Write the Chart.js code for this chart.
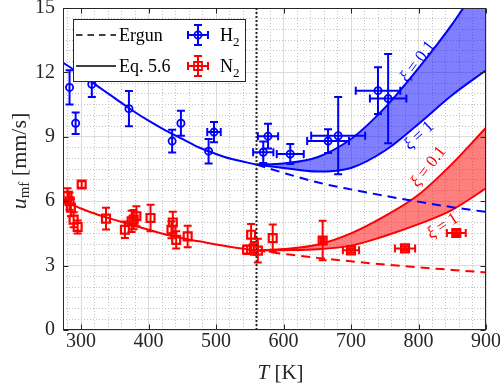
<!DOCTYPE html>
<html>
<head>
<meta charset="utf-8">
<title>u_mf vs T</title>
<script src="https://cdn.jsdelivr.net/npm/chart.js@4.4.1/dist/chart.umd.min.js"></script>
<style>
  html, body { margin: 0; padding: 0; background: #fff; }
  canvas { display: block; }
</style>
</head>
<body>
<canvas id="chart" width="500" height="389"></canvas>
<script>
// tick labels
const xTickLabels = [300, 400, 500, 600, 700, 800, 900];
const yTickLabels = [0, 3, 6, 9, 12, 15];

// H2 measurements (T [K], u_mf [mm/s], error bars)
const h2T    = [283, 292, 316, 371, 435, 448, 489, 497, 570, 577, 610, 666, 681, 740, 755];
const h2U    = [11.3, 9.63, 11.45, 10.31, 8.8, 9.63, 8.33, 9.22, 8.28, 9.03, 8.2, 8.8, 9.05, 11.15, 10.78];
const h2Terr = [0, 0, 0, 0, 0, 0, 0, 10, 15, 15, 20, 31, 40, 33, 27];
const h2Uerr = [0.8, 0.5, 0.6, 0.82, 0.53, 0.58, 0.57, 0.47, 0.5, 0.58, 0.47, 0.55, 1.8, 1.09, 2.08];

// N2 measurements
const n2T    = [280, 283, 285, 289, 295, 301, 337, 365, 375, 378, 382, 403, 434, 436, 441, 458, 546, 552, 556, 562, 584, 658, 700, 780, 856];
const n2U    = [6.25, 6.0, 5.7, 5.14, 4.8, 6.78, 5.19, 4.67, 5.06, 5.14, 5.3, 5.22, 4.67, 5.01, 4.2, 4.36, 3.74, 4.44, 3.8, 3.7, 4.28, 4.17, 3.71, 3.8, 4.52];
const n2Terr = [0, 0, 0, 0, 0, 0, 0, 0, 0, 0, 0, 0, 0, 0, 0, 0, 0, 0, 0, 0, 0, 3, 12, 15, 14];
const n2Uerr = [0.35, 0.4, 0.4, 0.35, 0.3, 0.15, 0.51, 0.39, 0.5, 0.45, 0.47, 0.62, 0.4, 0.5, 0.4, 0.5, 0.2, 0.5, 0.3, 0.55, 0.64, 0.92, 0.1, 0.1, 0.1];

// model curves below the transition (Ergun == Eq. 5.6 there)
const coldT   = [273.3, 300, 325, 350, 375, 400, 425, 450, 475, 500, 525, 560];
const h2Model = [12.46, 11.9, 11.35, 10.8, 10.25, 9.75, 9.3, 8.9, 8.5, 8.2, 7.95, 7.71];
const n2Model = [6.0, 5.66, 5.37, 5.13, 4.9, 4.67, 4.45, 4.27, 4.13, 3.98, 3.85, 3.71];

// above the transition
const hotT    = [560, 600, 650, 700, 750, 800, 850, 900];
const h2Ergun = [7.71, 7.32, 6.88, 6.55, 6.25, 5.98, 5.72, 5.5];
const h2Xi01  = [7.71, 7.76, 8.05, 8.9, 10.35, 12.2, 14.25, 16.6];
const h2Xi1   = [7.71, 7.55, 7.38, 7.55, 8.35, 9.6, 10.95, 12.1];
const n2Ergun = [3.71, 3.55, 3.36, 3.2, 3.05, 2.92, 2.8, 2.68];
const n2Xi01  = [3.71, 3.77, 3.97, 4.5, 5.3, 6.3, 7.75, 9.42];
const n2Xi1   = [3.71, 3.72, 3.76, 3.93, 4.38, 4.93, 5.6, 6.6];

const transitionT = 560;

const BLUE = '#0000ff';
const RED = '#ff0000';
const INK = '#262626';
const SERIF = "'Liberation Serif', 'Times New Roman', serif";
const CAP = 4;

const pts = (xs, ys) => xs.map((x, i) => ({ x, y: ys[i] }));

function lineDs(label, xs, ys, color, extra) {
  return {
    label,
    data: pts(xs, ys),
    showLine: true,
    borderColor: color,
    borderWidth: 2,
    pointRadius: 0,
    pointHoverRadius: 0,
    cubicInterpolationMode: 'monotone',
    fill: false,
    ...extra,
  };
}

function steps(from, to, step) {
  const out = [];
  for (let v = from; v <= to + 1e-9; v += step) out.push({ value: Math.round(v * 10) / 10 });
  return out;
}

// draws an error-bar cross with caps at (px, py)
function crossAt(ctx, px, py, x0, x1, y0, y1) {
  if (y0 !== y1) {
    ctx.moveTo(px, y0); ctx.lineTo(px, y1);
    ctx.moveTo(px - CAP, y0); ctx.lineTo(px + CAP, y0);
    ctx.moveTo(px - CAP, y1); ctx.lineTo(px + CAP, y1);
  }
  if (x0 !== x1) {
    ctx.moveTo(x0, py); ctx.lineTo(x1, py);
    ctx.moveTo(x0, py - CAP); ctx.lineTo(x0, py + CAP);
    ctx.moveTo(x1, py - CAP); ctx.lineTo(x1, py + CAP);
  }
}

const errorBars = {
  id: 'errorBars',
  afterDatasetsDraw(chart) {
    const { ctx, chartArea: a, scales: { x, y } } = chart;
    ctx.save();
    ctx.beginPath();
    ctx.rect(a.left, a.top, a.right - a.left, a.bottom - a.top);
    ctx.clip();
    chart.data.datasets.forEach((ds) => {
      if (!ds.yErr) return;
      ctx.strokeStyle = ds.borderColor;
      ctx.lineWidth = 2;
      ctx.beginPath();
      ds.data.forEach((p, i) => {
        const px = x.getPixelForValue(p.x);
        const py = y.getPixelForValue(p.y);
        const ex = ds.xErr[i], ey = ds.yErr[i];
        crossAt(ctx, px, py,
          x.getPixelForValue(p.x - ex), x.getPixelForValue(p.x + ex),
          y.getPixelForValue(p.y - ey), y.getPixelForValue(p.y + ey));
      });
      ctx.stroke();
    });
    ctx.restore();
  },
};

const xiNotes = [
  { value: '0.1', T: 799, u: 12.5, rot: -53, color: BLUE },
  { value: '1', T: 801, u: 9.05, rot: -43, color: BLUE },
  { value: '0.1', T: 815, u: 7.6, rot: -52, color: RED },
  { value: '1', T: 836, u: 4.83, rot: -33, color: RED },
];

function drawRuns(ctx, runs, cx, cy) {
  let total = 0;
  runs.forEach((r) => { ctx.font = r.font; total += ctx.measureText(r.text).width; });
  let xx = cx - total / 2;
  runs.forEach((r) => {
    ctx.font = r.font;
    ctx.fillText(r.text, xx, cy + (r.dy || 0));
    xx += ctx.measureText(r.text).width;
  });
}

const decorations = {
  id: 'decorations',
  afterDraw(chart) {
    const { ctx, chartArea: a, scales: { x, y } } = chart;
    ctx.save();

    // xi labels
    ctx.textBaseline = 'middle';
    ctx.textAlign = 'left';
    xiNotes.forEach((n) => {
      ctx.save();
      ctx.translate(x.getPixelForValue(n.T), y.getPixelForValue(n.u));
      ctx.rotate(n.rot * Math.PI / 180);
      ctx.fillStyle = n.color;
      drawRuns(ctx, [
        { text: 'ξ', font: 'italic 17px ' + SERIF },
        { text: ' = ' + n.value, font: '17px ' + SERIF },
      ], 0, 0);
      ctx.restore();
    });

    // axes box with inward ticks
    const L = Math.round(a.left) + 0.5, R = Math.round(a.right) - 0.5;
    const T = Math.round(a.top) + 0.5, B = Math.round(a.bottom) - 0.5;
    ctx.strokeStyle = INK;
    ctx.lineWidth = 1;
    ctx.setLineDash([]);
    ctx.strokeRect(L, T, R - L, B - T);
    ctx.beginPath();
    xTickLabels.forEach((v) => {
      const px = Math.round(x.getPixelForValue(v)) + 0.5;
      ctx.moveTo(px, B); ctx.lineTo(px, B - 5);
      ctx.moveTo(px, T); ctx.lineTo(px, T + 5);
    });
    yTickLabels.forEach((v) => {
      const py = Math.round(y.getPixelForValue(v)) + 0.5;
      ctx.moveTo(L, py); ctx.lineTo(L + 5, py);
      ctx.moveTo(R, py); ctx.lineTo(R - 5, py);
    });
    ctx.stroke();

    // axis titles
    ctx.fillStyle = INK;
    ctx.textBaseline = 'middle';
    drawRuns(ctx, [
      { text: 'T', font: 'italic 21px ' + SERIF },
      { text: ' [K]', font: '21px ' + SERIF },
    ], (a.left + a.right) / 2 + 6, 373);

    ctx.save();
    ctx.translate(20, 161);
    ctx.rotate(-Math.PI / 2);
    drawRuns(ctx, [
      { text: 'u', font: 'italic 22px ' + SERIF },
      { text: 'mf', font: '15px ' + SERIF, dy: 5 },
      { text: ' [mm/s]', font: '22px ' + SERIF },
    ], 0, 0);
    ctx.restore();

    // legend
    const lx = a.left + 10, ly = a.top + 11;
    ctx.fillStyle = '#fff';
    ctx.fillRect(lx, ly, 172, 62);
    ctx.strokeStyle = INK;
    ctx.lineWidth = 1;
    ctx.strokeRect(Math.round(lx) + 0.5, Math.round(ly) + 0.5, 172, 62);

    const r1 = ly + 16, r2 = ly + 47;
    ctx.strokeStyle = '#000';
    ctx.lineWidth = 1.5;
    ctx.setLineDash([6.5, 5]);
    ctx.beginPath(); ctx.moveTo(lx + 3, r1); ctx.lineTo(lx + 43, r1); ctx.stroke();
    ctx.setLineDash([]);
    ctx.beginPath(); ctx.moveTo(lx + 3, r2); ctx.lineTo(lx + 43, r2); ctx.stroke();

    ctx.fillStyle = '#000';
    ctx.textAlign = 'left';
    ctx.font = '18px ' + SERIF;
    ctx.fillText('Ergun', lx + 46, r1 + 1);
    ctx.fillText('Eq. 5.6', lx + 46, r2 + 1);

    const mx = lx + 125;
    [[r1, BLUE, 'H'], [r2, RED, 'N']].forEach(([ry, col, sym]) => {
      ctx.strokeStyle = col;
      ctx.lineWidth = 2;
      ctx.beginPath();
      crossAt(ctx, mx, ry, mx - 10, mx + 10, ry - 10, ry + 10);
      ctx.stroke();
      ctx.beginPath();
      if (sym === 'H') ctx.arc(mx, ry, 3.6, 0, Math.PI * 2);
      else ctx.rect(mx - 4, ry - 4, 8, 8);
      ctx.lineWidth = 1.8;
      ctx.stroke();
      ctx.fillStyle = '#000';
      ctx.font = '18px ' + SERIF;
      ctx.fillText(sym, mx + 22, ry + 1);
      const w = ctx.measureText(sym).width;
      ctx.font = '13px ' + SERIF;
      ctx.fillText('2', mx + 22 + w, ry + 8);
    });

    ctx.restore();
  },
};

new Chart(document.getElementById('chart'), {
  type: 'scatter',
  data: {
    datasets: [
      {
        label: 'transition',
        data: [{ x: transitionT, y: 0 }, { x: transitionT, y: 15 }],
        showLine: true,
        borderColor: INK,
        borderWidth: 2,
        borderDash: [2, 2],
        pointRadius: 0,
        order: 0,
      },
      {
        label: 'H2',
        data: pts(h2T, h2U),
        xErr: h2Terr,
        yErr: h2Uerr,
        showLine: false,
        pointStyle: 'circle',
        pointRadius: 3.6,
        borderWidth: 1.8,
        borderColor: BLUE,
        backgroundColor: 'rgba(0,0,0,0)',
        order: 1,
      },
      {
        label: 'N2',
        data: pts(n2T, n2U),
        xErr: n2Terr,
        yErr: n2Uerr,
        showLine: false,
        pointStyle: 'rect',
        pointRadius: 5.6,
        borderWidth: 2.2,
        borderColor: RED,
        backgroundColor: 'rgba(0,0,0,0)',
        order: 2,
      },
      lineDs('H2 Eq. 5.6', coldT, h2Model, BLUE, { order: 3 }),
      lineDs('H2 Ergun', hotT, h2Ergun, BLUE, { borderDash: [9, 6], order: 4 }),
      lineDs('H2 xi=0.1', hotT, h2Xi01, BLUE, { order: 5 }),
      lineDs('H2 xi=1', hotT, h2Xi1, BLUE, { fill: '-1', backgroundColor: 'rgba(0,0,255,0.5)', order: 6 }),
      lineDs('N2 Eq. 5.6', coldT, n2Model, RED, { order: 7 }),
      lineDs('N2 Ergun', hotT, n2Ergun, RED, { borderDash: [9, 6], order: 8 }),
      lineDs('N2 xi=0.1', hotT, n2Xi01, RED, { order: 9 }),
      lineDs('N2 xi=1', hotT, n2Xi1, RED, { fill: '-1', backgroundColor: 'rgba(255,0,0,0.5)', order: 10 }),
    ],
  },
  options: {
    responsive: false,
    animation: false,
    events: [],
    layout: { padding: { left: 0, top: 8, right: 14, bottom: 0 } },
    plugins: { legend: { display: false }, tooltip: { enabled: false } },
    scales: {
      x: {
        type: 'linear',
        min: 273.3,
        max: 900,
        afterBuildTicks: (s) => { s.ticks = steps(280, 900, 20); },
        afterFit: (s) => { s.height = 59; s.paddingLeft = 0; s.paddingRight = 0; },
        grid: {
          drawTicks: false,
          lineWidth: 1,
          color: (c) => (c.tick && xTickLabels.includes(c.tick.value) ? '#dcdcdc' : '#c2c2c2'),
        },
        border: {
          display: false,
          dash: (c) => (c.tick && !xTickLabels.includes(c.tick.value) ? [1, 2] : []),
        },
        ticks: {
          autoSkip: false,
          maxRotation: 0,
          padding: 0,
          color: INK,
          font: { family: SERIF, size: 20 },
          callback: (v) => (xTickLabels.includes(v) ? String(v) : ''),
        },
      },
      y: {
        type: 'linear',
        min: 0,
        max: 15,
        afterBuildTicks: (s) => { s.ticks = steps(0, 15, 0.5); },
        afterFit: (s) => { s.width = 63; s.paddingTop = 0; s.paddingBottom = 0; },
        grid: {
          drawTicks: false,
          lineWidth: 1,
          color: (c) => (c.tick && yTickLabels.includes(c.tick.value) ? '#dcdcdc' : '#c2c2c2'),
        },
        border: {
          display: false,
          dash: (c) => (c.tick && !yTickLabels.includes(c.tick.value) ? [1, 2] : []),
        },
        ticks: {
          autoSkip: false,
          padding: 8,
          color: INK,
          font: { family: SERIF, size: 20 },
          callback: (v) => (yTickLabels.includes(v) ? String(v) : ''),
        },
      },
    },
  },
  plugins: [errorBars, decorations],
});
</script>
</body>
</html>
